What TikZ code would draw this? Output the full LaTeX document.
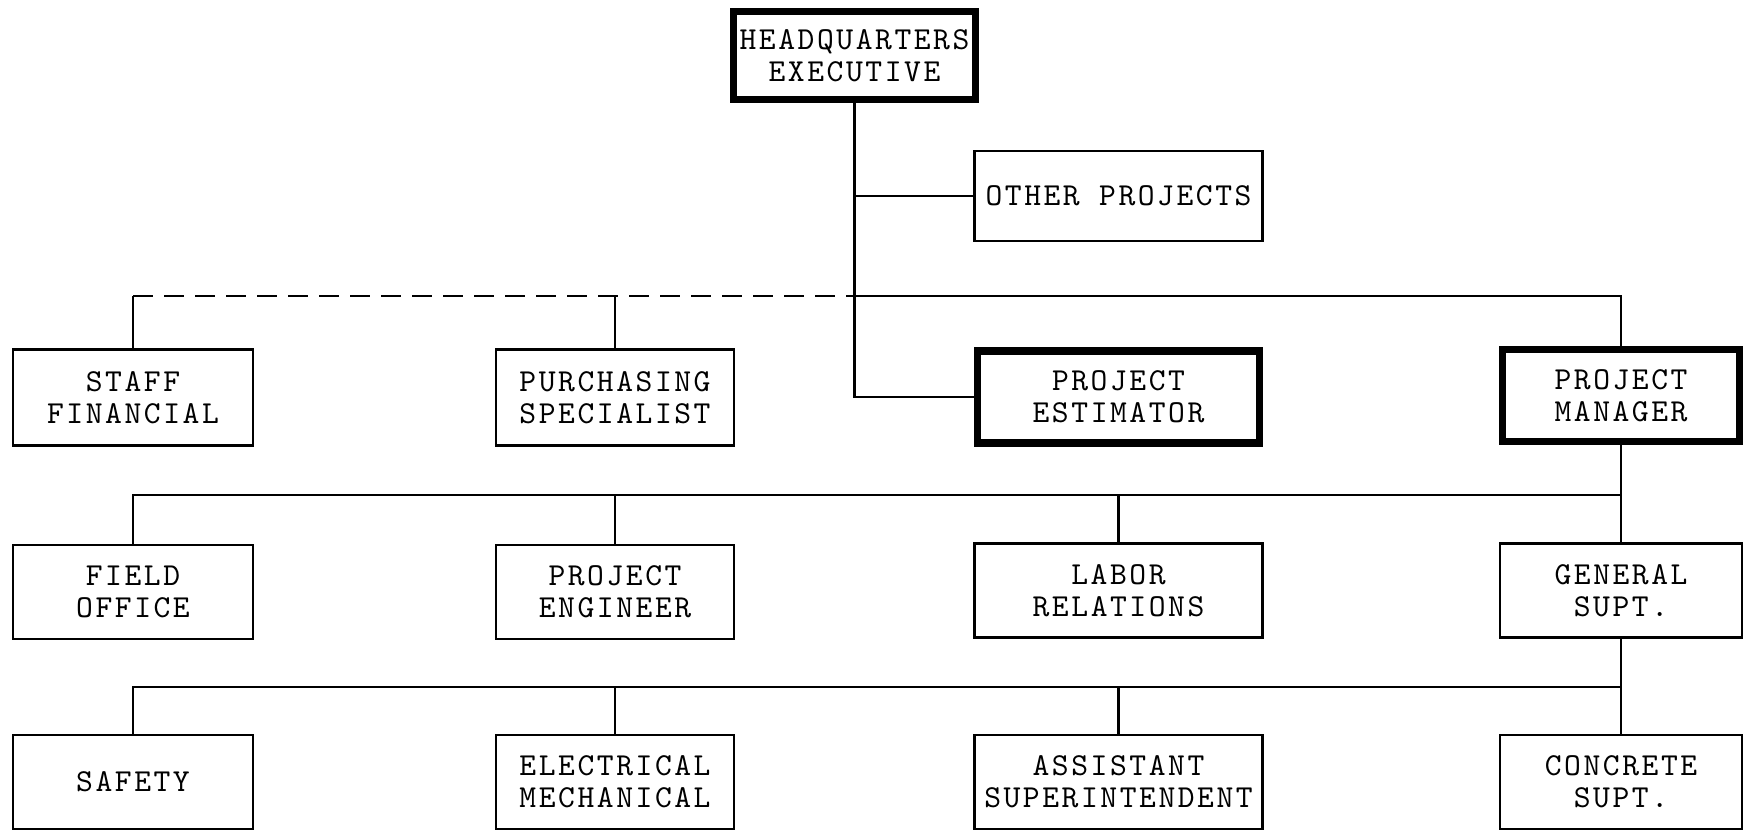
\documentclass[tikz,border=0pt]{standalone}
\usepackage{fontspec}
\newfontfamily\chartfont{lmmono10-regular.otf}[LetterSpace=8]
\begin{document}
\begin{tikzpicture}[x=0.5pt,y=-0.5pt,
  box/.style={draw, line width=1.1pt, rectangle, inner sep=0pt, align=center,
    font=\chartfont\fontsize{16}{16}\selectfont},
  bold/.style={box, line width=3.6pt},
  conn/.style={line width=1.1pt},
  dconn/.style={line width=1.1pt, dash pattern=on 10pt off 5.5pt}]
\useasboundingbox (0,0) rectangle (1752,830);
% nodes
\node[bold, minimum width=121pt, minimum height=44pt] (hq) at (854.5,55.5) {HEADQUARTERS\\EXECUTIVE};
\node[box, minimum width=144pt, minimum height=45pt] (other) at (1118.5,196) {OTHER PROJECTS};
\node[box, minimum width=120pt, minimum height=48pt] (staff) at (133,397.5) {STAFF\\FINANCIAL};
\node[box, minimum width=119pt, minimum height=48pt] (purch) at (615,397.5) {PURCHASING\\SPECIALIST};
\node[bold, minimum width=141pt, minimum height=46pt] (est) at (1118.5,397) {PROJECT\\ESTIMATOR};
\node[bold, minimum width=118.5pt, minimum height=46pt] (mgr) at (1621,395.5) {PROJECT\\MANAGER};
\node[box, minimum width=120pt, minimum height=47pt] (field) at (133,592) {FIELD\\OFFICE};
\node[box, minimum width=119pt, minimum height=47pt] (peng) at (615,592) {PROJECT\\ENGINEER};
\node[box, minimum width=144pt, minimum height=47pt] (labor) at (1118.5,590.5) {LABOR\\RELATIONS};
\node[box, minimum width=121pt, minimum height=47pt] (gen) at (1621,590.5) {GENERAL\\SUPT.};
\node[box, minimum width=120pt, minimum height=47pt] (safety) at (133,782) {SAFETY};
\node[box, minimum width=119pt, minimum height=47pt] (elec) at (615,782) {ELECTRICAL\\MECHANICAL};
\node[box, minimum width=144pt, minimum height=47pt] (asst) at (1118.5,782) {ASSISTANT\\SUPERINTENDENT};
\node[box, minimum width=121pt, minimum height=47pt] (conc) at (1621,782) {CONCRETE\\SUPT.};
% bus coordinates
\coordinate (bus1) at (hq.south |- 0,296);
\coordinate (bus2) at (mgr.south |- 0,495);
\coordinate (bus3) at (gen.south |- 0,687);
% HQ connectors
\draw[conn] (hq.south) |- (est.west);
\draw[conn] (hq.south |- other.west) -- (other.west);
\draw[conn] (bus1) -| (mgr.north);
\draw[conn] (staff.north) -- (staff.north |- bus1);
\draw[dconn] (staff.north |- bus1) -- (bus1);
\draw[conn] (purch.north) -- (purch.north |- bus1);
% manager level
\draw[conn] (mgr.south) -- (gen.north);
\draw[conn] (field.north) |- (bus2);
\draw[conn] (peng.north) -- (peng.north |- bus2);
\draw[conn] (labor.north) -- (labor.north |- bus2);
% general supt level
\draw[conn] (gen.south) -- (conc.north);
\draw[conn] (safety.north) |- (bus3);
\draw[conn] (elec.north) -- (elec.north |- bus3);
\draw[conn] (asst.north) -- (asst.north |- bus3);
\end{tikzpicture}
\end{document}
